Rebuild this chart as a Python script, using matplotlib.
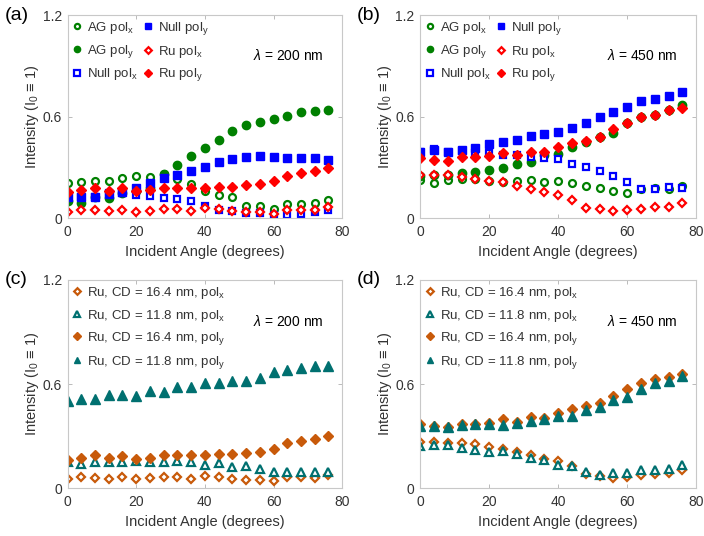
import numpy as np
import matplotlib.pyplot as plt

plt.rcParams['font.family'] = ['Liberation Sans', 'DejaVu Sans']
plt.rcParams['mathtext.fontset'] = 'custom'
plt.rcParams['mathtext.rm'] = 'Liberation Sans'
plt.rcParams['mathtext.it'] = 'Liberation Sans:italic'

# Incident angles (degrees)
angle = np.arange(0, 80, 4)

# (a) lambda = 200 nm
ag_x_200 = [0.209, 0.211, 0.219, 0.217, 0.239, 0.249, 0.243, 0.258, 0.229, 0.199,
            0.162, 0.136, 0.126, 0.073, 0.071, 0.057, 0.083, 0.085, 0.089, 0.105]
ag_y_200 = [0.101, 0.089, 0.126, 0.120, 0.146, 0.162, 0.181, 0.258, 0.316, 0.365,
            0.412, 0.462, 0.513, 0.548, 0.566, 0.586, 0.606, 0.627, 0.633, 0.637]
null_x_200 = [0.130, 0.126, 0.126, 0.148, 0.146, 0.138, 0.132, 0.120, 0.112, 0.099,
              0.073, 0.047, 0.041, 0.028, 0.028, 0.018, 0.020, 0.022, 0.034, 0.051]
null_y_200 = [0.126, 0.126, 0.126, 0.142, 0.152, 0.179, 0.209, 0.239, 0.252, 0.280,
              0.302, 0.331, 0.347, 0.363, 0.369, 0.363, 0.355, 0.355, 0.353, 0.341]
ru_x_200 = [0.037, 0.051, 0.047, 0.041, 0.051, 0.036, 0.045, 0.053, 0.057, 0.041,
            0.059, 0.055, 0.045, 0.034, 0.034, 0.026, 0.051, 0.051, 0.051, 0.063]
ru_y_200 = [0.152, 0.164, 0.179, 0.162, 0.176, 0.160, 0.164, 0.179, 0.179, 0.179,
            0.181, 0.185, 0.185, 0.195, 0.203, 0.219, 0.250, 0.264, 0.280, 0.296]

# (b) lambda = 450 nm
ag_x_450 = [0.225, 0.207, 0.223, 0.229, 0.229, 0.221, 0.211, 0.221, 0.227, 0.211,
            0.221, 0.207, 0.191, 0.176, 0.162, 0.146, 0.170, 0.176, 0.172, 0.191]
ag_y_450 = [0.250, 0.252, 0.252, 0.264, 0.272, 0.284, 0.298, 0.322, 0.329, 0.375,
            0.379, 0.418, 0.452, 0.477, 0.505, 0.560, 0.600, 0.609, 0.639, 0.667]
null_x_450 = [0.392, 0.408, 0.392, 0.398, 0.383, 0.383, 0.373, 0.373, 0.359, 0.357,
              0.349, 0.318, 0.302, 0.278, 0.247, 0.213, 0.170, 0.174, 0.183, 0.176]
null_y_450 = [0.392, 0.402, 0.392, 0.402, 0.416, 0.436, 0.448, 0.460, 0.485, 0.499,
              0.511, 0.531, 0.560, 0.598, 0.625, 0.659, 0.692, 0.706, 0.722, 0.744]
ru_x_450 = [0.252, 0.252, 0.252, 0.243, 0.229, 0.217, 0.211, 0.191, 0.170, 0.156,
            0.136, 0.108, 0.061, 0.057, 0.041, 0.051, 0.057, 0.063, 0.067, 0.089]
ru_y_450 = [0.357, 0.343, 0.337, 0.359, 0.359, 0.367, 0.385, 0.375, 0.392, 0.391,
            0.422, 0.446, 0.454, 0.479, 0.525, 0.560, 0.600, 0.611, 0.637, 0.649]

# (c) CD comparison, lambda = 200 nm
cd164_x_200 = [0.054, 0.065, 0.061, 0.056, 0.065, 0.052, 0.060, 0.065, 0.067, 0.056,
               0.069, 0.067, 0.056, 0.048, 0.050, 0.042, 0.065, 0.065, 0.061, 0.077]
cd118_x_200 = [0.152, 0.142, 0.150, 0.150, 0.150, 0.159, 0.154, 0.150, 0.155, 0.150,
               0.132, 0.144, 0.123, 0.127, 0.109, 0.094, 0.092, 0.094, 0.094, 0.092]
cd164_y_200 = [0.163, 0.177, 0.190, 0.177, 0.188, 0.169, 0.177, 0.192, 0.192, 0.192,
               0.192, 0.196, 0.196, 0.205, 0.211, 0.226, 0.259, 0.271, 0.286, 0.303]
cd118_y_200 = [0.503, 0.512, 0.516, 0.537, 0.537, 0.532, 0.562, 0.557, 0.585, 0.582,
               0.605, 0.608, 0.618, 0.618, 0.633, 0.670, 0.678, 0.693, 0.702, 0.704]

# (d) CD comparison, lambda = 450 nm
cd164_x_450 = [0.269, 0.267, 0.261, 0.261, 0.253, 0.236, 0.226, 0.209, 0.190, 0.171,
               0.155, 0.127, 0.083, 0.073, 0.060, 0.067, 0.077, 0.083, 0.086, 0.104]
cd118_x_450 = [0.246, 0.250, 0.251, 0.234, 0.221, 0.207, 0.215, 0.196, 0.177, 0.163,
               0.134, 0.127, 0.094, 0.075, 0.088, 0.086, 0.106, 0.106, 0.111, 0.136]
cd164_y_450 = [0.370, 0.359, 0.355, 0.369, 0.370, 0.374, 0.397, 0.384, 0.409, 0.403,
               0.436, 0.457, 0.474, 0.493, 0.532, 0.570, 0.608, 0.628, 0.643, 0.656]
cd118_y_450 = [0.359, 0.361, 0.355, 0.365, 0.372, 0.370, 0.365, 0.376, 0.390, 0.397,
               0.418, 0.417, 0.451, 0.470, 0.509, 0.528, 0.572, 0.608, 0.618, 0.649]

green = '#008000'
blue = '#0000ff'
red = '#ff0000'
orange = '#c85a0a'
teal = '#007070'
txt = '#333333'

fig = plt.figure(figsize=(7.04, 5.36), dpi=100)
ax_a = fig.add_axes([0.096, 0.593, 0.390, 0.379])
ax_b = fig.add_axes([0.597, 0.593, 0.392, 0.379])
ax_c = fig.add_axes([0.096, 0.089, 0.390, 0.389])
ax_d = fig.add_axes([0.597, 0.089, 0.392, 0.389])


def plot_series(ax, y, color, marker, filled, label, ms=5):
    if filled:
        ax.plot(angle, y, linestyle='none', marker=marker, ms=ms, color=color,
                mec=color, mfc=color, mew=1.0, label=label)
    else:
        ax.plot(angle, y, linestyle='none', marker=marker, ms=ms, color=color,
                mec=color, mfc='white', mew=1.6, label=label)


def style_axes(ax, wl, panel):
    ax.set_xlim(0, 80)
    ax.set_ylim(0, 1.2)
    ax.set_xticks([0, 20, 40, 60, 80])
    ax.set_yticks([0, 0.6, 1.2])
    ax.set_yticklabels(['0', '0.6', '1.2'])
    ax.tick_params(direction='in', length=3, width=0.6, colors='#b0b0b0',
                   labelcolor=txt, labelsize=10, top=True, right=True)
    ax.tick_params(axis='x', pad=5)
    ax.tick_params(axis='y', pad=4)
    for s in ax.spines.values():
        s.set_color('#c8c8c8')
        s.set_linewidth(0.8)
    ax.set_xlabel('Incident Angle (degrees)', fontsize=10.5, color=txt, labelpad=4)
    ax.set_ylabel(r'Intensity (I$_\mathrm{0}$ ≡ 1)', fontsize=10.5, color=txt, labelpad=1)
    ax.text(0.675, 0.80, r'$\lambda$ = %d nm' % wl, transform=ax.transAxes, fontsize=10,
            color='black', va='center')
    ax.text(-0.23, 1.0, '(%s)' % panel, transform=ax.transAxes, fontsize=14,
            color='black', va='center', ha='left')


leg_kw = dict(loc='upper left', frameon=False, fontsize=9.5, handlelength=0.6,
              handletextpad=0.45, labelspacing=0.5, borderaxespad=0.0,
              borderpad=0.0, markerscale=0.75, bbox_to_anchor=(0.02, 0.975))

for ax, wl, panel, d in [
        (ax_a, 200, 'a', (ag_x_200, ag_y_200, null_x_200, null_y_200, ru_x_200, ru_y_200)),
        (ax_b, 450, 'b', (ag_x_450, ag_y_450, null_x_450, null_y_450, ru_x_450, ru_y_450))]:
    plot_series(ax, d[0], green, 'o', False, r'AG pol$_\mathrm{x}$')
    plot_series(ax, d[1], green, 'o', True, r'AG pol$_\mathrm{y}$', ms=6)
    plot_series(ax, d[2], blue, 's', False, r'Null pol$_\mathrm{x}$')
    plot_series(ax, d[3], blue, 's', True, r'Null pol$_\mathrm{y}$', ms=5.5)
    plot_series(ax, d[4], red, 'D', False, r'Ru pol$_\mathrm{x}$', ms=4.5)
    plot_series(ax, d[5], red, 'D', True, r'Ru pol$_\mathrm{y}$', ms=5)
    style_axes(ax, wl, panel)
    leg = ax.legend(ncol=2, columnspacing=0.5, **leg_kw)
    for t in leg.get_texts():
        t.set_color(txt)

for ax, wl, panel, d in [
        (ax_c, 200, 'c', (cd164_x_200, cd118_x_200, cd164_y_200, cd118_y_200)),
        (ax_d, 450, 'd', (cd164_x_450, cd118_x_450, cd164_y_450, cd118_y_450))]:
    plot_series(ax, d[0], orange, 'D', False, r'Ru, CD = 16.4 nm, pol$_\mathrm{x}$', ms=4.5)
    plot_series(ax, d[1], teal, '^', False, r'Ru, CD = 11.8 nm, pol$_\mathrm{x}$', ms=5.5)
    plot_series(ax, d[2], orange, 'D', True, r'Ru, CD = 16.4 nm, pol$_\mathrm{y}$', ms=5)
    plot_series(ax, d[3], teal, '^', True, r'Ru, CD = 11.8 nm, pol$_\mathrm{y}$', ms=6.5)
    style_axes(ax, wl, panel)
    leg = ax.legend(ncol=1, **leg_kw)
    for t in leg.get_texts():
        t.set_color(txt)

fig.savefig('out.png', dpi=100)
